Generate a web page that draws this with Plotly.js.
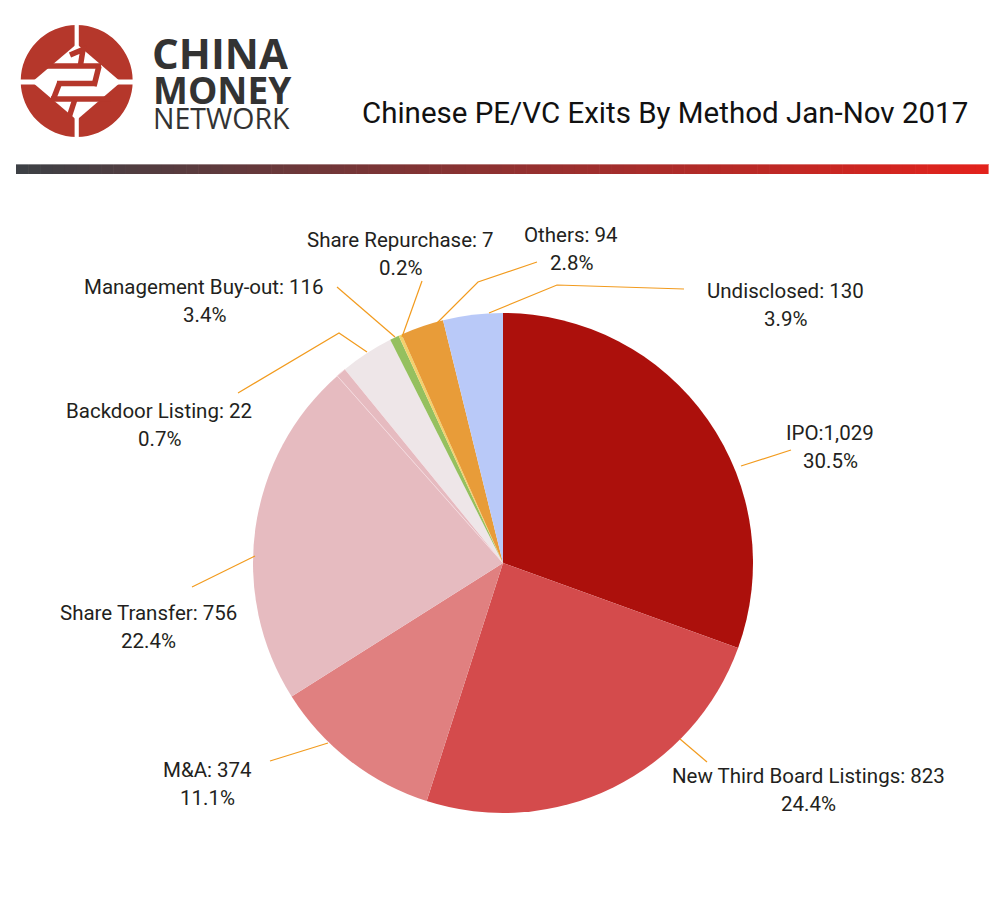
<!DOCTYPE html>
<html>
<head>
<meta charset="utf-8">
<script src="https://cdn.plot.ly/plotly-3.0.1.min.js"></script>
<style>html,body{margin:0;padding:0;background:#fff;}#chart{width:1000px;height:899px;}</style>
</head>
<body>
<div id="chart"></div>
<script>
// ---- data ----
const categories = ['IPO', 'New Third Board Listings', 'M&A', 'Share Transfer', 'Backdoor Listing',
  'Management Buy-out', 'Unlabeled', 'Share Repurchase', 'Others', 'Undisclosed'];
const values = [1029, 823, 374, 756, 22, 116, 20, 7, 94, 130];
const valueLabels = ['IPO:1,029', 'New Third Board Listings: 823', 'M&A: 374', 'Share Transfer: 756',
  'Backdoor Listing: 22', 'Management Buy-out: 116', '', 'Share Repurchase: 7', 'Others: 94', 'Undisclosed: 130'];
const percentLabels = ['30.5%', '24.4%', '11.1%', '22.4%', '0.7%', '3.4%', '', '0.2%', '2.8%', '3.9%'];
const sliceColors = ['#AC100C', '#D44B4C', '#E08080', '#E6BBC0', '#E6BBC0', '#EEE6E8', '#95C05F', '#F3D16C', '#E89C39', '#B9C9F8'];
const chartTitle = 'Chinese PE/VC Exits By Method Jan-Nov 2017';

// ---- layout helpers (pixel -> paper) ----
const W = 1000, H = 899;
const px = x => x / W;
const py = y => 1 - y / H;
const pathOf = pts => pts.map((p, i) => (i ? 'L' : 'M') + px(p[0]).toFixed(5) + ',' + py(p[1]).toFixed(5)).join(' ');

// label anchor positions (center x, first line y) and leader lines, by slice index
const labelPos = {0: [830, 433], 1: [808, 776], 2: [207, 770], 3: [148, 613], 4: [159, 411],
  5: [204, 287], 7: [400, 240], 8: [571, 235], 9: [785, 291]};
const leaders = {
  0: [[741, 466], [791, 450]],
  1: [[680, 739], [707, 762]],
  2: [[328, 743], [270, 761]],
  3: [[255, 556], [192, 587]],
  4: [[238, 393], [339, 333], [367, 352]],
  5: [[337, 287], [395, 337]],
  7: [[422, 281], [402, 337]],
  8: [[537, 262], [478, 282], [437, 323]],
  9: [[684, 289], [557, 285], [489, 313]]
};

const labelFont = {family: 'Roboto, "DejaVu Sans", sans-serif', size: 20.5, color: '#231F20'};
const annotations = [];
const shapes = [];

// gradient header bar
const nSeg = 80, bx0 = 16, bx1 = 988;
const c0 = [61, 64, 69], c1 = [226, 34, 28];
for (let i = 0; i < nSeg; i++) {
  const t = i / (nSeg - 1);
  const c = c0.map((v, k) => Math.round(v + (c1[k] - v) * t));
  const xa = bx0 + (bx1 - bx0) * i / nSeg, xb = bx0 + (bx1 - bx0) * (i + 1) / nSeg + 0.6;
  shapes.push({type: 'rect', xref: 'paper', yref: 'paper', x0: px(xa), x1: px(xb), y0: py(174), y1: py(164),
    fillcolor: `rgb(${c[0]},${c[1]},${c[2]})`, line: {width: 0}, layer: 'above'});
}
shapes.push({type: 'line', xref: 'paper', yref: 'paper', x0: px(bx0), x1: px(bx1), y0: py(164.5), y1: py(164.5),
  line: {color: 'rgba(255,255,255,0.35)', width: 1}, layer: 'above'});

// logo
const logoRed = '#B5372B';
shapes.push({type: 'circle', xref: 'paper', yref: 'paper', x0: px(20.7), x1: px(132.7), y0: py(137), y1: py(25),
  fillcolor: logoRed, line: {width: 0}});
shapes.push({type: 'path', xref: 'paper', yref: 'paper', path: pathOf([[76.7, 44], [121, 82], [76.7, 120], [32, 82]]) + ' Z',
  fillcolor: '#fff', line: {width: 0}});
[[74.6, 22, 78.8, 48], [74.6, 116, 78.8, 140], [18, 79.5, 36, 84.5], [117, 79.5, 135, 84.5]].forEach(r => {
  shapes.push({type: 'rect', xref: 'paper', yref: 'paper', x0: px(r[0]), x1: px(r[2]), y0: py(r[3]), y1: py(r[1]),
    fillcolor: '#fff', line: {width: 0}});
});
const glyph = [
  [[70, 55], [83, 49.5], [80.5, 65]],
  [[47, 66], [101, 66]],
  [[99, 66], [94, 86]],
  [[57, 83.5], [96, 83.5]],
  [[60, 82], [53, 100]],
  [[51, 99], [111, 99]],
  [[75, 99], [69.5, 116]]
];
glyph.forEach(g => shapes.push({type: 'path', xref: 'paper', yref: 'paper', path: pathOf(g),
  line: {color: logoRed, width: 5.5}, fillcolor: 'rgba(0,0,0,0)'}));

const logoFont = sz => ({family: '"Open Sans", sans-serif', size: sz, color: '#333333'});
annotations.push({text: '<b>CHINA</b>', xref: 'paper', yref: 'paper', x: px(150), y: py(52.5), xanchor: 'left', yanchor: 'middle',
  height: 34, valign: 'middle', showarrow: false, font: logoFont(42)});
annotations.push({text: '<b>MONEY</b>', xref: 'paper', yref: 'paper', x: px(151), y: py(89), xanchor: 'left', yanchor: 'middle',
  height: 30, valign: 'middle', showarrow: false, font: logoFont(37)});
annotations.push({text: 'NETWORK', xref: 'paper', yref: 'paper', x: px(151), y: py(118), xanchor: 'left', yanchor: 'middle',
  height: 24, valign: 'middle', showarrow: false, font: logoFont(28.5)});

// title
annotations.push({text: chartTitle, xref: 'paper', yref: 'paper', x: px(970), y: py(113), xanchor: 'right', yanchor: 'middle',
  showarrow: false, font: {family: 'Roboto, "DejaVu Sans", sans-serif', size: 29.5, color: '#111111'}});

// slice labels + leader lines
categories.forEach((c, i) => {
  if (!labelPos[i]) return;
  const [lx, ly] = labelPos[i];
  annotations.push({text: valueLabels[i], xref: 'paper', yref: 'paper', x: px(lx), y: py(ly), xanchor: 'center', yanchor: 'middle',
    showarrow: false, font: labelFont});
  annotations.push({text: percentLabels[i], xref: 'paper', yref: 'paper', x: px(lx), y: py(ly + 28), xanchor: 'center', yanchor: 'middle',
    showarrow: false, font: labelFont});
  shapes.push({type: 'path', xref: 'paper', yref: 'paper', path: pathOf(leaders[i]),
    line: {color: '#F29B1E', width: 1.2}, fillcolor: 'rgba(0,0,0,0)', layer: 'above'});
});

const lineW = values.map((v, i) => i === 4 ? 1 : 0);
const lineC = values.map((v, i) => i === 4 ? 'rgba(245,220,224,0.9)' : 'rgba(0,0,0,0)');

const trace = {
  type: 'pie',
  labels: categories,
  values: values,
  sort: false,
  direction: 'clockwise',
  rotation: 0,
  textinfo: 'none',
  hoverinfo: 'label+value+percent',
  marker: {colors: sliceColors, line: {width: lineW, color: lineC}},
  domain: {x: [px(253), px(753)], y: [py(813), py(313)]},
  showlegend: false
};

const layout = {
  width: W, height: H,
  margin: {l: 0, r: 0, t: 0, b: 0},
  paper_bgcolor: '#ffffff',
  plot_bgcolor: '#ffffff',
  showlegend: false,
  shapes: shapes,
  annotations: annotations
};

Plotly.newPlot('chart', [trace], layout, {displayModeBar: false, staticPlot: true});
</script>
</body>
</html>
